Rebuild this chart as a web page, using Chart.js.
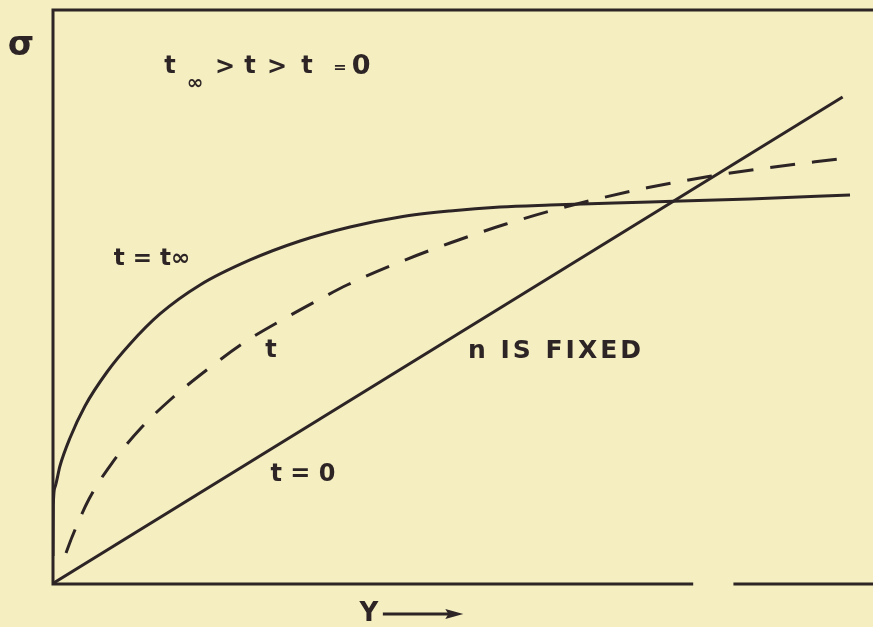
<!DOCTYPE html>
<html>
<head>
<meta charset="utf-8">
<script src="https://cdn.jsdelivr.net/npm/chart.js@4/dist/chart.umd.min.js"></script>
<style>
  html, body { margin: 0; padding: 0; background: #f5eec1; }
  canvas { display: block; }
</style>
</head>
<body>
<canvas id="c" width="873" height="627"></canvas>
<script>
// ---- data (arbitrary units: Y strain on x, sigma on y; both 0..100) ----
const lineT0X = [0, 96.3];
const lineT0Y = [0, 84.7];

const curveTinfX = [0.12, 0.16, 0.37, 0.97, 2.19, 4.02, 6.70, 9.50, 13.15, 18.03, 24.12, 30.21, 36.30, 42.39, 48.48, 54.57, 60.66, 72.84, 85.02, 97.20];
const curveTinfY = [4.87, 13.74, 16.87, 20.52, 25.39, 30.96, 36.87, 41.74, 46.96, 52.00, 56.35, 59.65, 62.09, 63.83, 64.87, 65.57, 65.91, 66.43, 66.96, 67.65];

const curveTX = [1.71, 2.44, 4.51, 7.31, 10.84, 14.37, 19.00, 23.51, 28.01, 32.89, 35.93, 42.39, 48.48, 55.30, 62.85, 72.47, 80.15, 87.21, 95.74];
const curveTY = [5.39, 8.17, 14.78, 21.04, 27.13, 32.00, 37.39, 42.09, 45.91, 49.74, 52.00, 56.00, 59.30, 62.60, 65.70, 68.90, 70.90, 72.40, 73.91];

// text annotations
const labelTexts = ["σ", "t", "∞", ">", "t", ">", "t", "=", "0", "t = t∞", "t", "n IS FIXED", "t = 0", "Y"];
const labelX = [-3.78, 14.37, 17.42, 21.07, 24.12, 27.41, 31.06, 35.08, 37.64, 12.18, 26.67, 61.39, 30.57, 38.6];
const labelY = [93.6, 89.9, 87.0, 89.7, 89.9, 89.7, 89.9, 89.7, 89.9, 56.5, 40.5, 40.5, 19.0, -5.2];
const labelSize = [34, 24, 20, 24, 24, 24, 24, 16, 27, 23, 24, 25, 24, 26];
const labelSpacing = [0, 0, 0, 0, 0, 0, 0, 0, 0, 0, 0, 3, 0, 0];

const arrowFrom = [40.3, -5.2];
const arrowTo = [50.1, -5.2];
const bottomGap = [78.1, 83.0];

const INK = '#2d2525';
const toPts = (xs, ys) => xs.map((x, i) => ({x: x, y: ys[i]}));

const framePlugin = {
  id: 'frame',
  beforeDraw(chart) {
    const c = chart.ctx;
    c.save();
    c.fillStyle = '#f5eec1';
    c.fillRect(0, 0, chart.width, chart.height);
    c.restore();
  },
  beforeDatasetsDraw(chart) {
    const {ctx: c, chartArea: a, scales: {x}} = chart;
    c.save();
    c.strokeStyle = INK;
    c.lineWidth = 3;
    c.lineCap = 'butt';
    c.beginPath();
    c.moveTo(a.right, a.top + 1);
    c.lineTo(a.left + 1, a.top + 1);
    c.lineTo(a.left + 1, a.bottom);
    c.lineTo(x.getPixelForValue(bottomGap[0]), a.bottom);
    c.moveTo(x.getPixelForValue(bottomGap[1]), a.bottom);
    c.lineTo(a.right, a.bottom);
    c.stroke();
    c.restore();
  },
  afterDraw(chart) {
    const {ctx: c, scales: {x, y}} = chart;
    c.save();
    c.fillStyle = INK;
    c.strokeStyle = INK;
    c.textAlign = 'center';
    c.textBaseline = 'middle';
    labelTexts.forEach((t, i) => {
      c.font = 'bold ' + labelSize[i] + 'px "DejaVu Sans"';
      c.letterSpacing = labelSpacing[i] + 'px';
      c.fillText(t, x.getPixelForValue(labelX[i]), y.getPixelForValue(labelY[i]));
    });
    // arrow after Y
    const x0 = x.getPixelForValue(arrowFrom[0]), y0 = y.getPixelForValue(arrowFrom[1]);
    const x1 = x.getPixelForValue(arrowTo[0]), y1 = y.getPixelForValue(arrowTo[1]);
    c.lineWidth = 3;
    c.beginPath();
    c.moveTo(x0, y0);
    c.lineTo(x1 - 14, y1);
    c.stroke();
    c.beginPath();
    c.moveTo(x1, y1);
    c.lineTo(x1 - 18, y1 - 5);
    c.lineTo(x1 - 15, y1);
    c.lineTo(x1 - 18, y1 + 5);
    c.closePath();
    c.fill();
    c.restore();
  }
};

new Chart(document.getElementById('c'), {
  type: 'line',
  data: {
    datasets: [
      {
        label: 't = 0',
        data: toPts(lineT0X, lineT0Y),
        borderColor: INK, borderWidth: 3, pointRadius: 0, tension: 0
      },
      {
        label: 't = t∞',
        data: toPts(curveTinfX, curveTinfY),
        borderColor: INK, borderWidth: 3, pointRadius: 0,
        cubicInterpolationMode: 'monotone'
      },
      {
        label: 't',
        data: toPts(curveTX, curveTY),
        borderColor: INK, borderWidth: 3, pointRadius: 0,
        borderDash: [25, 17],
        cubicInterpolationMode: 'monotone'
      }
    ]
  },
  options: {
    responsive: false,
    devicePixelRatio: 1,
    animation: false,
    layout: { padding: { left: 52, top: 9, right: 0, bottom: 43 } },
    plugins: { legend: { display: false }, tooltip: { enabled: false }, title: { display: false } },
    scales: {
      x: { type: 'linear', min: 0, max: 100, display: false },
      y: { type: 'linear', min: 0, max: 100, display: false }
    }
  },
  plugins: [framePlugin]
});
</script>
</body>
</html>
